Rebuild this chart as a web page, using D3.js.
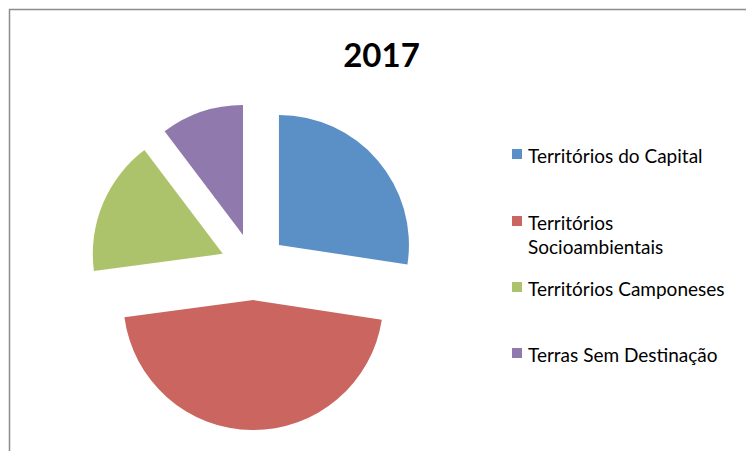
<!DOCTYPE html>
<html>
<head>
<meta charset="utf-8">
<script src="https://cdn.jsdelivr.net/npm/d3@7"></script>
<style>
  body { margin: 0; background: #fff; }
  svg { display: block; }
  text { font-family: Lato, "Open Sans", sans-serif; fill: #000; }
</style>
</head>
<body>
<script>
// data (percent share)
const categories = ['Territórios do Capital', 'Territórios Socioambientais', 'Territórios Camponeses', 'Terras Sem Destinação']
const values = [27.4, 45.5, 16.8, 10.3]
const colors = ['#5B90C6', '#CB6560', '#ADC36B', '#9079AD']
const title = '2017'

const width = 746
const height = 451
const center = { x: 253.6, y: 266.7 }
const radius = 130
const explode = 33.4

const svg = d3.select('body').append('svg')
  .attr('width', width)
  .attr('height', height)

// frame (only top and left edges show in the picture)
svg.append('path')
  .attr('d', `M9.5,${height} V9.5 H${width}`)
  .attr('fill', 'none')
  .attr('stroke', '#8c8c8c')
  .attr('stroke-width', 1.5)

svg.append('text')
  .attr('x', 381.5)
  .attr('y', 67)
  .attr('text-anchor', 'middle')
  .style('font-size', '33px')
  .style('font-weight', 'bold')
  .text(title)

const color = d3.scaleOrdinal().domain(categories).range(colors)

const pie = d3.pie().sort(null).value((d, i) => values[i])
const arc = d3.arc().innerRadius(0).outerRadius(radius)

const g = svg.append('g')
  .attr('transform', `translate(${center.x}, ${center.y})`)

g.selectAll('path')
  .data(pie(categories))
  .enter()
  .append('path')
  .attr('d', arc)
  .attr('fill', (d) => color(d.data))
  .attr('transform', (d) => {
    const mid = (d.startAngle + d.endAngle) / 2
    return `translate(${Math.sin(mid) * explode}, ${-Math.cos(mid) * explode})`
  })

// legend
const legendRows = [
  { y: 149, lines: ['Territórios do Capital'] },
  { y: 216, lines: ['Territórios', 'Socioambientais'] },
  { y: 282, lines: ['Territórios Camponeses'] },
  { y: 348, lines: ['Terras Sem Destinação'] }
]

const legend = svg.selectAll('.legend')
  .data(categories)
  .enter().append('g')
  .attr('class', 'legend')
  .attr('transform', (d, i) => `translate(512, ${legendRows[i].y})`)

legend.append('rect')
  .attr('width', 10)
  .attr('height', 10)
  .attr('fill', (d) => color(d))

legend.append('text')
  .attr('x', 16)
  .attr('y', 14)
  .style('font-size', '19px')
  .selectAll('tspan')
  .data((d, i) => legendRows[i].lines)
  .enter().append('tspan')
  .attr('x', 16)
  .attr('dy', (d, i) => i === 0 ? 0 : 24)
  .text((d) => d)
</script>
</body>
</html>
